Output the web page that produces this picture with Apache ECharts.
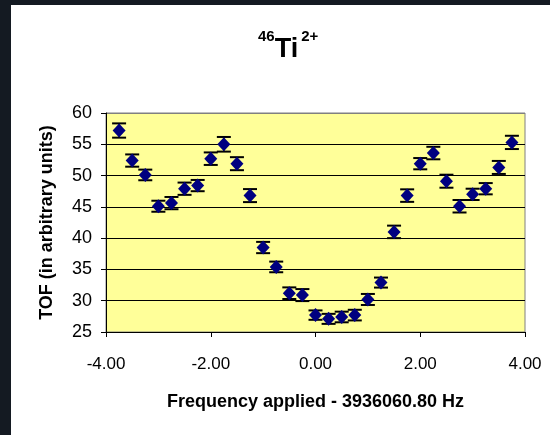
<!DOCTYPE html>
<html>
<head>
<meta charset="utf-8">
<script src="https://cdn.jsdelivr.net/npm/echarts@6/dist/echarts.min.js"></script>
<style>
  html, body { margin: 0; padding: 0; background: #141a22; }
  #main { width: 550px; height: 435px; }
</style>
</head>
<body>
<div id="main"></div>
<script>
// frequency offset (Hz), TOF values and their errors
var freq = [-3.75, -3.5, -3.25, -3.0, -2.75, -2.5, -2.25, -2.0, -1.75, -1.5, -1.25, -1.0, -0.75, -0.5, -0.25,
            0.0, 0.25, 0.5, 0.75, 1.0, 1.25, 1.5, 1.75, 2.0, 2.25, 2.5, 2.75, 3.0, 3.25, 3.5, 3.75];
var tof = [57.2, 52.4, 50.1, 45.1, 45.6, 47.9, 48.4, 52.7, 55.0, 51.9, 46.8, 38.5, 35.4, 31.2, 30.9,
           27.7, 27.1, 27.4, 27.7, 30.2, 32.9, 41.0, 46.8, 51.9, 53.6, 49.1, 45.1, 47.0, 47.9, 51.3, 55.3];
var err = [1.14, 0.98, 0.85, 0.88, 0.98, 0.98, 0.9, 1.0, 1.17, 1.04, 1.04, 0.9, 0.85, 0.93, 0.96,
           0.75, 0.8, 0.85, 0.85, 0.88, 0.8, 1.0, 1.0, 0.9, 1.0, 1.04, 1.0, 0.9, 0.9, 1.04, 1.06];
var xTicks = [-4, -2, 0, 2, 4];

var points = freq.map(function(f, i){ return [f, tof[i]]; });
var bars = freq.map(function(f, i){ return [f, tof[i] - err[i], tof[i] + err[i]]; });

var chart = echarts.init(document.getElementById('main'));
var font = '"Liberation Sans", Arial, sans-serif';

var option = {
    backgroundColor: '#141a22',
    animation: false,
    textStyle: { fontFamily: font },
    graphic: [{
        type: 'rect', z: -10, silent: true,
        shape: { x: 11, y: 5, width: 539, height: 430 },
        style: { fill: '#ffffff' }
    }],
    title: {
        text: '{sup|46}{main|Ti}{sup2|2+}',
        left: 253,
        top: 24,
        textStyle: {
            rich: {
                main: { fontFamily: font, fontSize: 27, fontWeight: 'bold', color: '#000', verticalAlign: 'bottom', lineHeight: 34 },
                sup: { fontFamily: font, fontSize: 15, fontWeight: 'bold', color: '#000', verticalAlign: 'top', lineHeight: 34 },
                sup2: { fontFamily: font, fontSize: 15, fontWeight: 'bold', color: '#000', verticalAlign: 'top', lineHeight: 34, padding: [0, 0, 0, 3] }
            }
        }
    },
    grid: {
        left: 106, right: 25, top: 113, bottom: 103,
        show: true,
        backgroundColor: '#ffff99',
        borderColor: '#808080',
        borderWidth: 1
    },
    xAxis: {
        type: 'value',
        min: -4, max: 4, interval: 2,
        name: 'Frequency applied - 3936060.80 Hz',
        nameLocation: 'middle',
        nameGap: 61,
        nameTextStyle: { fontFamily: font, fontSize: 18, fontWeight: 'bold', color: '#000' },
        axisLine: { onZero: false, lineStyle: { color: '#000', width: 1 } },
        axisTick: { show: true, inside: false, length: 5, lineStyle: { color: '#000' } },
        axisLabel: {
            margin: 24, fontSize: 17, color: '#000', fontFamily: font,
            formatter: function(v){ return xTicks.indexOf(v) >= 0 ? v.toFixed(2) : ''; }
        },
        splitLine: { show: false }
    },
    yAxis: {
        type: 'value',
        min: 25, max: 60, interval: 5,
        name: 'TOF (in arbitrary units)',
        nameLocation: 'middle',
        nameGap: 50,
        nameTextStyle: { fontFamily: font, fontSize: 18, fontWeight: 'bold', color: '#000' },
        axisLine: { show: true, onZero: false, lineStyle: { color: '#000', width: 1 } },
        axisTick: { show: true, inside: false, length: 5, lineStyle: { color: '#000' } },
        axisLabel: { margin: 14, fontSize: 18, color: '#000', fontFamily: font },
        splitLine: {
            show: true,
            lineStyle: { color: ['#000', '#000', '#000', '#000', '#000', '#000', '#000', '#808080'], width: 1 }
        }
    },
    series: [
        {
            type: 'custom',
            data: bars,
            z: 2,
            renderItem: function(params, api){
                var x = api.value(0);
                var lo = api.coord([x, api.value(1)]);
                var hi = api.coord([x, api.value(2)]);
                var cap = 7;
                var st = { stroke: '#000', lineWidth: 2 };
                return {
                    type: 'group',
                    children: [
                        { type: 'line', shape: { x1: lo[0], y1: lo[1], x2: hi[0], y2: hi[1] }, style: { stroke: '#000', lineWidth: 1.5 } },
                        { type: 'line', shape: { x1: lo[0] - cap, y1: lo[1], x2: lo[0] + cap, y2: lo[1] }, style: st },
                        { type: 'line', shape: { x1: hi[0] - cap, y1: hi[1], x2: hi[0] + cap, y2: hi[1] }, style: st }
                    ]
                };
            }
        },
        {
            type: 'scatter',
            data: points,
            z: 3,
            symbol: 'diamond',
            symbolSize: [13, 14],
            itemStyle: { color: '#000080', opacity: 1 }
        }
    ]
};

chart.setOption(option);
</script>
</body>
</html>
